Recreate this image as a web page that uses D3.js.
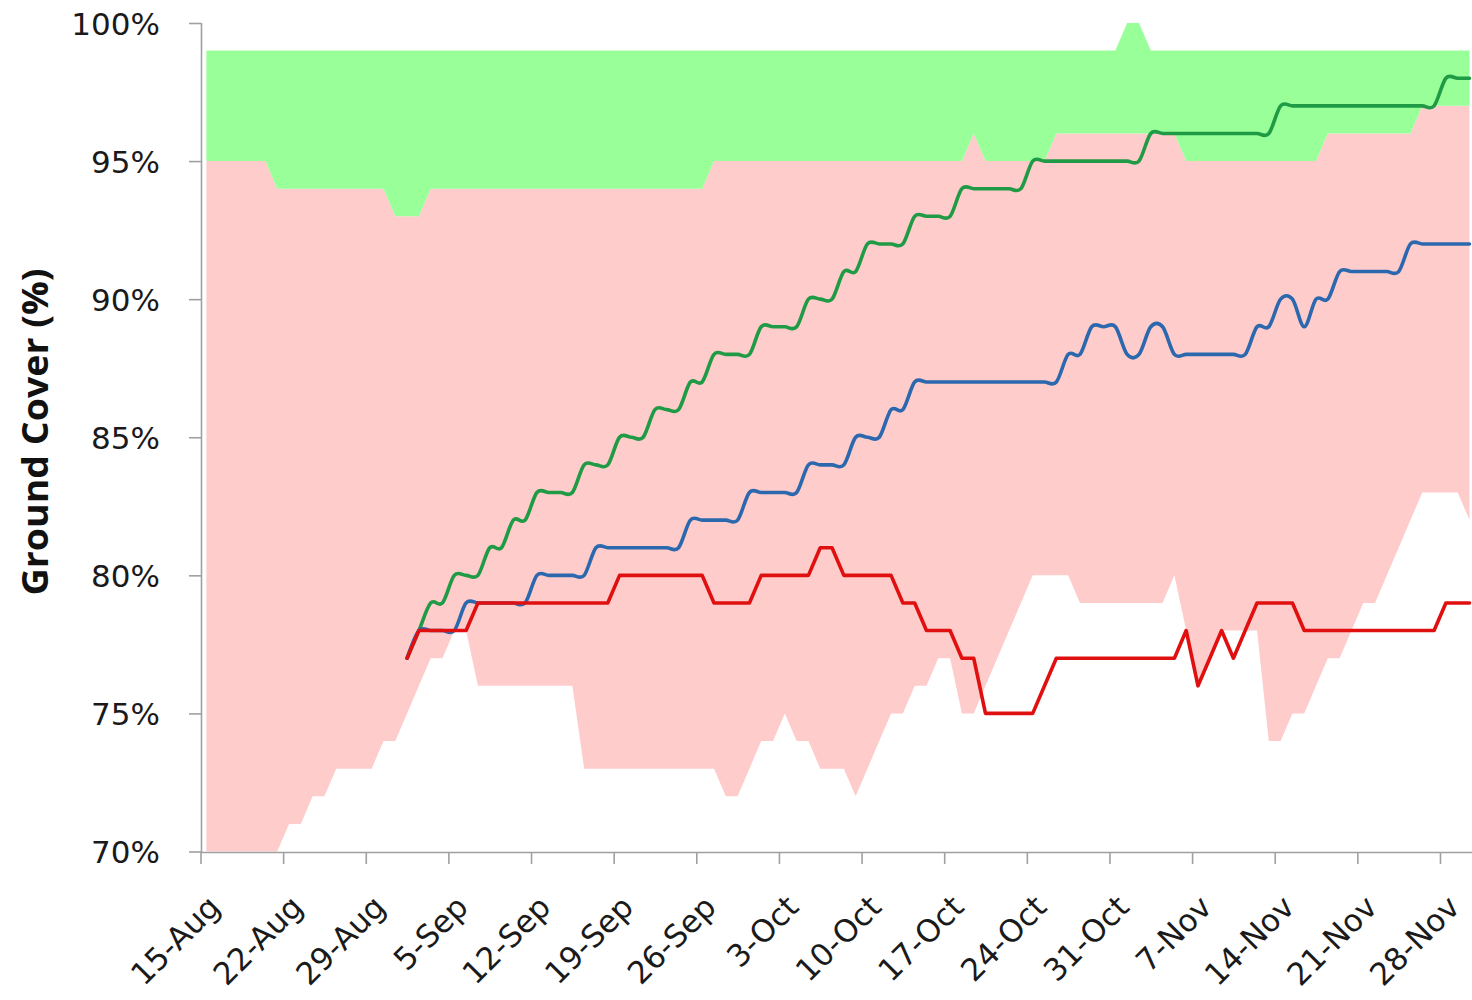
<!DOCTYPE html>
<html><head><meta charset="utf-8">
<script src="https://cdn.jsdelivr.net/npm/d3@7"></script>
<style>body{margin:0;background:#fff}</style>
</head><body>
<svg id="chart" width="1472" height="1000"></svg>
<script>
// ---- data ----
const startDate = "2013-08-15";      // first daily value of the bands
const lineStartDate = "2013-09-01";  // first daily value of the lines
const xTickLabels = ["15-Aug","22-Aug","29-Aug","5-Sep","12-Sep","19-Sep","26-Sep","3-Oct","10-Oct","17-Oct","24-Oct","31-Oct","7-Nov","14-Nov","21-Nov","28-Nov"];
const yTickValues = [70,75,80,85,90,95,100];

const bandLower = [70,70,70,70,70,70,70,71,71,72,72,73,73,73,73,74,74,75,76,77,77,78,78,
 76,76,76,76,76,76,76,76,76,
 73,73,73,73,73,73,73,73,73,73,73,73,
 72,72,73,74,74,75,74,74,73,73,73,72,73,74,75,75,76,76,77,77,75,75,76,77,78,79,
 80,80,80,80,79,79,79,79,79,79,79,79,80,78,76,77,78,78,78,78,74,74,75,75,76,77,77,78,79,79,80,81,82,83,83,83,83,82];
const bandMid = [95,95,95,95,95,95,
 94,94,94,94,94,94,94,94,94,94,
 93,93,93,
 94,94,94,94,94,94,94,94,94,94,94,94,94,94,94,94,94,94,94,94,94,94,94,94,
 95,95,95,95,95,95,95,95,95,95,95,95,95,95,95,95,95,95,95,95,95,95,
 96,
 95,95,95,95,95,95,
 96,96,96,96,96,96,96,96,96,96,96,
 95,95,95,95,95,95,95,95,95,95,95,95,
 96,96,96,96,96,96,96,96,
 97,97,97,97,97];
const bandUpper = [99,99,99,99,99,99,99,99,99,99,99,99,99,99,99,99,99,99,99,99,
 99,99,99,99,99,99,99,99,99,99,99,99,99,99,99,99,99,99,99,99,
 99,99,99,99,99,99,99,99,99,99,99,99,99,99,99,99,99,99,99,99,
 99,99,99,99,99,99,99,99,99,99,99,99,99,99,99,99,99,99,
 100,100,
 99,99,99,99,99,99,99,99,99,99,99,99,99,99,99,99,99,99,99,99,99,99,99,99,99,99,99,99];

const seriesGreen = [77,78,79,79,80,80,80,81,81,82,82,83,83,83,83,84,84,84,85,85,85,86,86,86,87,87,
 88,88,88,88,89,89,89,89,90,90,90,91,91,92,92,92,92,93,93,93,93,94,94,94,94,94,94,
 95,95,95,95,95,95,95,95,95,95,96,96,96,96,96,96,96,96,96,96,96,
 97,97,97,97,97,97,97,97,97,97,97,97,97,97,98,98,98];
const seriesBlue = [77,78,78,78,78,79,79,79,79,79,79,80,80,80,80,80,81,81,81,81,81,81,81,81,
 82,82,82,82,82,83,83,83,83,83,84,84,84,84,85,85,85,86,86,
 87,87,87,87,87,87,87,87,87,87,87,87,87,88,88,89,89,89,88,88,89,89,
 88,88,88,88,88,88,88,89,89,90,90,89,90,90,91,91,91,91,91,91,92,92,92,92,92,92];
const seriesRed = [77,78,78,78,78,78,79,79,79,79,79,79,79,79,79,79,79,79,
 80,80,80,80,80,80,80,80,79,79,79,79,80,80,80,80,80,81,81,80,80,80,80,80,79,79,78,78,78,77,77,
 75,75,75,75,75,76,77,77,77,77,77,77,77,77,77,77,77,78,76,77,78,77,78,79,79,79,79,
 78,78,78,78,78,78,78,78,78,78,78,78,79,79,79];

// ---- scales ----
const parse = d3.utcParse("%Y-%m-%d");
const t0 = parse(startDate);
const tL = parse(lineStartDate);
const year = t0.getUTCFullYear();
const t1 = d3.utcDay.offset(t0, 108);
const x = d3.scaleUtc().domain([t0, t1]).range([200.5, 1475.4]);
const y = d3.scaleLinear().domain([70, 100]).range([851.5, 23]);
const dayMid = (start, i) => d3.utcHour.offset(d3.utcDay.offset(start, i), 12);
const tickDates = xTickLabels.map(s => d3.utcParse("%d-%b-%Y")(s + "-" + year));

const svg = d3.select("#chart");
svg.append("defs").append("clipPath").attr("id", "plot")
  .append("rect").attr("x", 201).attr("y", 0).attr("width", 1271).attr("height", 852);

const g = svg.append("g").attr("clip-path", "url(#plot)");

const idx = d3.range(bandLower.length);
const pinkArea = d3.area().x(i => x(dayMid(t0, i))).y0(i => y(bandLower[i])).y1(i => y(bandMid[i]));
const greenArea = d3.area().x(i => x(dayMid(t0, i))).y0(i => y(bandMid[i])).y1(i => y(bandUpper[i]));
g.append("path").attr("d", pinkArea(idx)).attr("fill", "#FFCCCC");
g.append("path").attr("d", greenArea(idx)).attr("fill", "#99FF99");

function drawLine(vals, color, curve) {
  const line = d3.line().x((d, i) => x(dayMid(tL, i))).y(d => y(d)).curve(curve);
  g.append("path").attr("d", line(vals)).attr("fill", "none")
    .attr("stroke", color).attr("stroke-width", 3.6)
    .attr("stroke-linejoin", "round").attr("stroke-linecap", "round");
}
drawLine(seriesGreen, "#1F9A45", d3.curveCardinal.tension(0));
drawLine(seriesBlue, "#2B68AE", d3.curveCardinal.tension(0));
drawLine(seriesRed, "#E01010", d3.curveLinear);

// ---- axes ----
const axisColor = "#A0A0A0";
const yAxis = svg.append("g").attr("transform", "translate(201,0)")
  .call(d3.axisLeft(y).tickValues(yTickValues).tickFormat(d => d + "%").tickSize(12).tickPadding(29));
const xAxis = svg.append("g").attr("transform", "translate(0,852)")
  .call(d3.axisBottom(x).tickValues(tickDates).tickFormat((d, i) => xTickLabels[i]).tickSize(12));

[yAxis, xAxis].forEach(a => {
  a.select(".domain").attr("stroke", axisColor).attr("stroke-width", 1.6);
  a.selectAll(".tick line").attr("stroke", axisColor).attr("stroke-width", 1.6);
});
xAxis.select(".domain").attr("d", "M200.5,0.5H1472");
yAxis.select(".domain").attr("d", "M0.5,23V852");

const labelFont = "'DejaVu Sans', sans-serif";
yAxis.selectAll("text").attr("font-family", labelFont).attr("font-size", 31)
  .attr("fill", "#1a1a1a").attr("dy", "0.36em");
xAxis.selectAll("text").attr("font-family", labelFont).attr("font-size", 31)
  .attr("fill", "#1a1a1a").attr("text-anchor", "end")
  .attr("y", 0).attr("dy", 0)
  .attr("transform", "translate(21,57) rotate(-45)");

svg.append("text")
  .attr("transform", "translate(48,432) rotate(-90)")
  .attr("text-anchor", "middle")
  .attr("font-family", "'Open Sans', sans-serif").attr("font-weight", "bold")
  .attr("font-size", 36).attr("fill", "#111")
  .attr("textLength", 327).attr("lengthAdjust", "spacingAndGlyphs")
  .text("Ground Cover (%)");
</script>
</body></html>
